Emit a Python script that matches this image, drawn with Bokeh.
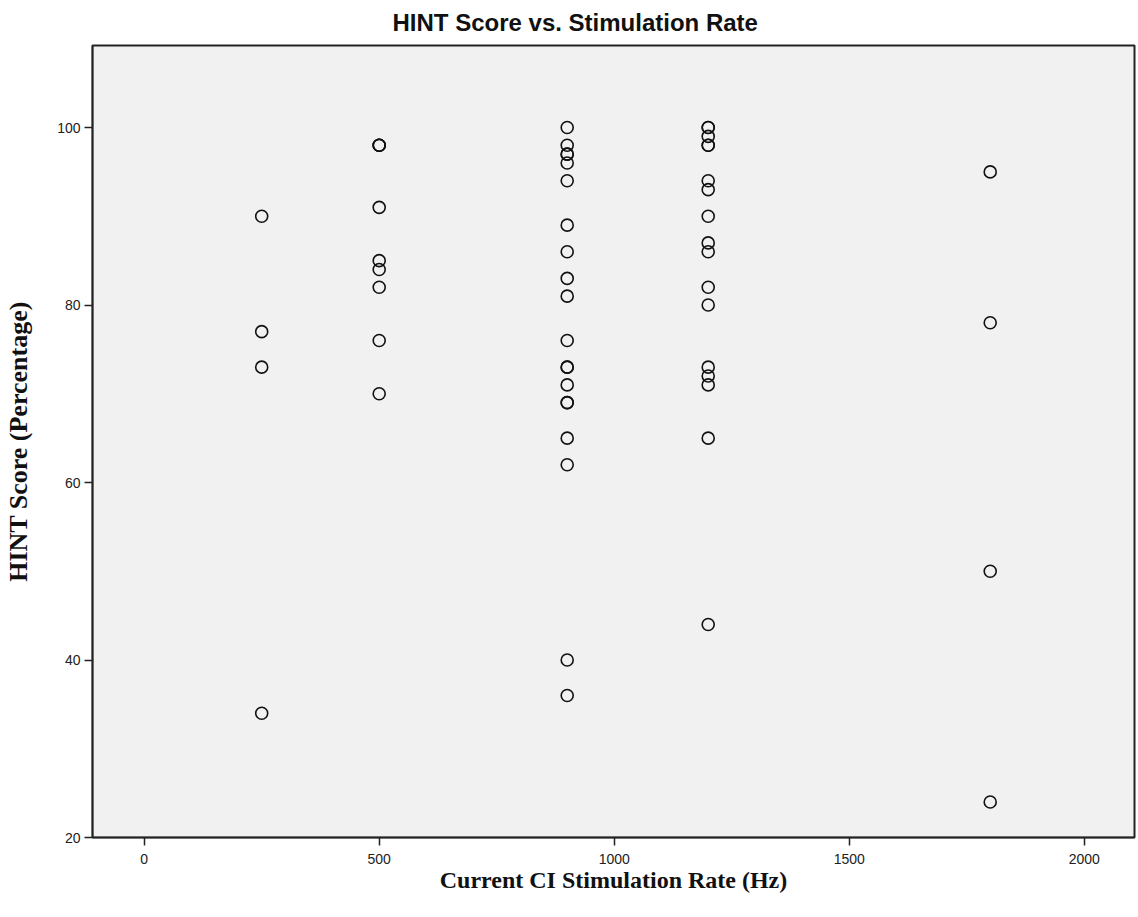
from bokeh.plotting import figure
from bokeh.models import ColumnDataSource, FixedTicker, Range1d
from bokeh.embed import file_html
from bokeh.resources import INLINE

# Data
rate_250 = [90, 77, 73, 34]
rate_500 = [98, 98, 98, 91, 85, 84, 82, 76, 70]
rate_900 = [100, 98, 97, 97, 96, 94, 89, 86, 83, 81, 76, 73, 73, 71, 69, 69, 65, 62, 40, 36]
rate_1200 = [100, 100, 99, 98, 98, 94, 93, 90, 87, 86, 82, 80, 73, 72, 71, 65, 44]
rate_1800 = [95, 78, 50, 24]

groups = {250: rate_250, 500: rate_500, 900: rate_900, 1200: rate_1200, 1800: rate_1800}
xs, ys = [], []
for r, vals in groups.items():
    for v in vals:
        xs.append(r)
        ys.append(v)

x_ticks = [0, 500, 1000, 1500, 2000]
y_ticks = [20, 40, 60, 80, 100]

src = ColumnDataSource(dict(x=xs, y=ys))

p = figure(frame_width=1042, frame_height=792, output_backend="svg", toolbar_location=None,
           x_range=Range1d(-110, 2107), y_range=Range1d(20, 109.24),
           title="HINT Score vs. Stimulation Rate",
           min_border_left=92, min_border_right=2, min_border_top=45, min_border_bottom=10)

p.title.align = "left"
p.title.vertical_align = "top"
p.title.offset = 300
p.title.standoff = 15
p.title.text_font = "Liberation Sans"
p.title.text_font_size = "24px"
p.title.text_font_style = "bold"
p.title.text_color = "#111111"

p.background_fill_color = "#F0F1F0"
p.border_fill_color = "white"
p.outline_line_color = "#222222"
p.outline_line_width = 2
p.xgrid.visible = False
p.ygrid.visible = False

for ax in (p.xaxis[0], p.yaxis[0]):
    ax.axis_line_color = "#222222"
    ax.axis_line_width = 1.5
    ax.major_tick_line_color = "#222222"
    ax.major_tick_line_width = 1.5
    ax.major_tick_out = 8
    ax.major_tick_in = 0
    ax.minor_tick_line_color = None
    ax.major_label_text_font = "Liberation Sans"
    ax.major_label_text_font_size = "14px"
    ax.major_label_text_color = "#222222"
    ax.axis_label_text_font = "Liberation Serif"
    ax.axis_label_text_font_size = "24px"
    ax.axis_label_text_font_style = "bold"
    ax.axis_label_text_color = "#111111"

p.yaxis.axis_label_text_font_size = "26px"

p.xaxis.ticker = FixedTicker(ticks=x_ticks)
p.yaxis.ticker = FixedTicker(ticks=y_ticks)
p.xaxis.axis_label = "Current CI Stimulation Rate (Hz)"
p.yaxis.axis_label = "HINT Score (Percentage)"
p.xaxis.major_label_standoff = 8
p.xaxis.axis_label_standoff = 0
p.yaxis.major_label_standoff = 4
p.yaxis.axis_label_standoff = 21

p.scatter("x", "y", source=src, marker="circle", size=12, fill_color=None,
          line_color="#111111", line_width=1.6)

open("out.html", "w").write(file_html(p, INLINE))
